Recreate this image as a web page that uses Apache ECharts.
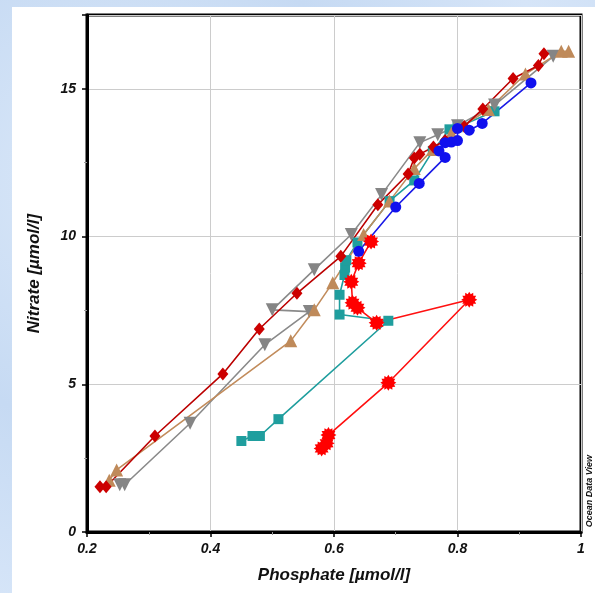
<!DOCTYPE html>
<html><head><meta charset="utf-8">
<script src="https://cdn.jsdelivr.net/npm/echarts@6/dist/echarts.min.js"></script>
<style>
html,body{margin:0;padding:0;width:595px;height:593px;overflow:hidden;
background:#cfe0f6;background-image:radial-gradient(circle at 20% 30%,#dce9f9 0,#c6daf3 40%,#d6e5f8 70%,#c9dcf4 100%);}
#panel{position:absolute;left:12px;top:7px;width:583px;height:586px;background:#fff;}
#c{position:absolute;left:0;top:0;width:595px;height:593px;}
</style></head><body>
<div id="panel"></div><div id="c"></div>
<script>
// ---- data (Phosphate, Nitrate) ----
const darkRedDiamonds = [[0.221,1.53],[0.231,1.53],[0.31,3.25],[0.42,5.35],[0.479,6.87],[0.54,8.08],[0.611,9.33],[0.671,11.08],[0.72,12.12],[0.73,12.66],[0.739,12.79],[0.761,13.03],[0.78,13.25],[0.811,13.73],[0.841,14.32],[0.89,15.35],[0.931,15.79],[0.94,16.19]];
const tanTriangles = [[0.236,1.75],[0.248,2.1],[0.53,6.47],[0.568,7.52],[0.598,8.44],[0.648,10.07],[0.69,11.2],[0.73,12.3],[0.76,12.95],[0.79,13.5],[0.85,14.3],[0.91,15.5],[0.968,16.27],[0.98,16.27]];
const grayTriangles = [[0.253,1.6],[0.261,1.6],[0.367,3.68],[0.488,6.34],[0.56,7.46],[0.50,7.52],[0.568,8.88],[0.628,10.07],[0.677,11.42],[0.739,13.18],[0.768,13.45],[0.80,13.75],[0.86,14.45],[0.955,16.1]];
const tealSquares = [[0.45,3.08],[0.468,3.25],[0.48,3.25],[0.51,3.82],[0.688,7.15],[0.609,7.36],[0.609,8.03],[0.617,8.7],[0.618,8.95],[0.62,9.2],[0.638,9.8],[0.69,11.2],[0.73,11.9],[0.76,12.9],[0.787,13.63],[0.80,13.7],[0.86,14.24]];
const blueCircles = [[0.64,9.5],[0.70,11.0],[0.738,11.8],[0.78,12.68],[0.77,12.9],[0.78,13.18],[0.79,13.2],[0.80,13.25],[0.80,13.66],[0.819,13.6],[0.84,13.83],[0.919,15.2]];
const redStars = [[0.66,9.83],[0.64,9.1],[0.628,8.47],[0.63,7.76],[0.638,7.59],[0.669,7.08],[0.819,7.86],[0.688,5.05],[0.591,3.28],[0.588,3.0],[0.58,2.83]];
const xTicks = [0.2,0.4,0.6,0.8,1];
const yTicks = [0,5,10,15];

// star marker path (style)
function starPath(n, ro, ri){
  let p='';
  for(let i=0;i<2*n;i++){
    const r = i%2===0?ro:ri; const a = Math.PI*i/n - Math.PI/2;
    p += (i===0?'M':'L') + (50+r*Math.cos(a)).toFixed(2)+' '+(50+r*Math.sin(a)).toFixed(2)+' ';
  }
  return 'path://'+p+'Z';
}
const STAR = starPath(12, 50, 36);

const font = '"Liberation Sans", Arial, sans-serif';
const chart = echarts.init(document.getElementById('c'), null, {renderer:'canvas'});
function ser(data, color, lineColor, symbol, size, extra){
  return Object.assign({type:'line', data, symbol, symbolSize:size, showAllSymbol:true,
    lineStyle:{color:lineColor, width:1.6}, itemStyle:{color, borderWidth:0},
    emphasis:{disabled:true}, z:3, animation:false}, extra||{});
}
chart.setOption({
  animation:false,
  backgroundColor:'transparent',
  grid:{left:87,right:14,top:15,bottom:61,show:true,backgroundColor:'#fff',borderColor:'#000',borderWidth:3},
  xAxis:{type:'value',min:0.2,max:1,interval:0.2,
    name:'Phosphate [µmol/l]',nameLocation:'middle',nameGap:35,
    nameTextStyle:{fontFamily:font,fontWeight:'bold',fontStyle:'italic',fontSize:17,color:'#111'},
    axisLine:{show:true,lineStyle:{color:'#000',width:3}},
    axisTick:{show:true,inside:false,length:5,lineStyle:{color:'#000',width:1.5}},
    minorTick:{show:true,splitNumber:2,length:3,lineStyle:{color:'#999',width:1}},
    splitLine:{show:true,lineStyle:{color:'#cccccc',width:1}},
    axisLabel:{margin:10,fontFamily:font,fontWeight:'bold',fontStyle:'italic',fontSize:14,color:'#111',
      formatter:v=>xTicks.includes(Math.round(v*10)/10)?String(Math.round(v*10)/10):''}},
  yAxis:{type:'value',min:0,max:17.5,interval:5,
    name:'Nitrate [µmol/l]',nameLocation:'middle',nameGap:44,
    nameTextStyle:{fontFamily:font,fontWeight:'bold',fontStyle:'italic',fontSize:17,color:'#111'},
    axisLine:{show:true,lineStyle:{color:'#000',width:3}},
    axisTick:{show:true,inside:false,length:5,lineStyle:{color:'#000',width:1.5}},
    minorTick:{show:true,splitNumber:2,length:3,lineStyle:{color:'#999',width:1}},
    splitLine:{show:true,lineStyle:{color:'#cccccc',width:1}},
    axisLabel:{margin:11,showMaxLabel:false,fontFamily:font,fontWeight:'bold',fontStyle:'italic',fontSize:14,color:'#111',
      formatter:v=>yTicks.includes(v)?String(v):''}},
  graphic:[{type:'text',left:585,top:455,rotation:Math.PI/2,
    style:{text:'Ocean Data View',font:'bold italic 9px '+font,fill:'#111'}, z:10}],
  series:[
    ser(tealSquares,'#1f9e9e','#1f9e9e','rect',10),
    ser(grayTriangles,'#858585','#8a8a8a','triangle',13,{symbolRotate:180}),
    ser(tanTriangles,'#bf8a5a','#c28c5c','triangle',13),
    ser(redStars,'#ff0000','#ff1010',STAR,16),
    ser(darkRedDiamonds,'#cc0000','#bb0000','diamond',[11,13]),
    ser(blueCircles,'#1010ee','#1a1ae6','circle',11)
  ]
});
</script></body></html>
